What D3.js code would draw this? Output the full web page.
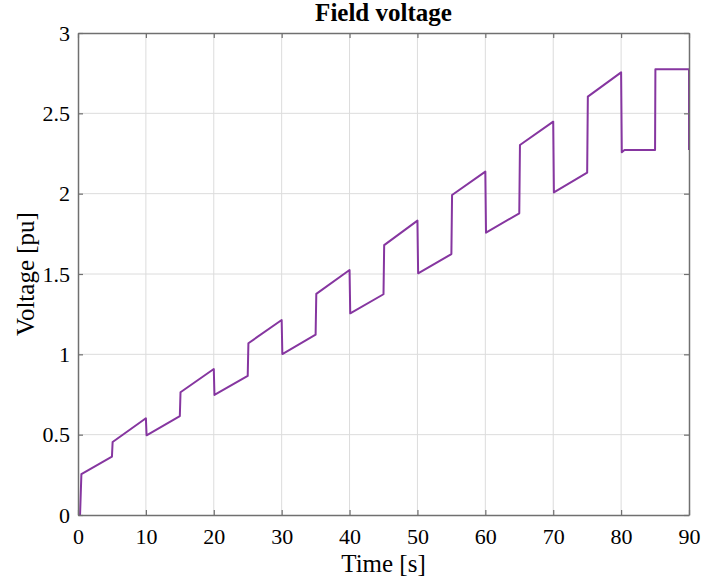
<!DOCTYPE html>
<html>
<head>
<meta charset="utf-8">
<script src="https://cdn.jsdelivr.net/npm/d3@7"></script>
<style>
  body { margin: 0; background: #fff; }
  svg text { font-family: "Liberation Serif", "Times New Roman", serif; fill: #000; }
</style>
</head>
<body>
<div id="chart"></div>
<script>
// field voltage trace
var timeS = [0, 0.3, 0.5, 5, 5.1, 10, 10.1, 15, 15.1, 20, 20.1, 25, 25.1, 30, 30.1,
  35, 35.1, 40, 40.1, 45, 45.1, 50, 50.1, 55, 55.1, 60, 60.1, 65, 65.1, 70, 70.1,
  75, 75.1, 80, 80.1, 80.5, 85, 85.05, 90, 90]
var voltPu = [0, 0, 0.255, 0.363, 0.454, 0.602, 0.496, 0.616, 0.764, 0.909, 0.747,
  0.866, 1.069, 1.214, 1.002, 1.122, 1.376, 1.525, 1.255, 1.374, 1.680, 1.832, 1.504,
  1.624, 1.992, 2.137, 1.757, 1.878, 2.303, 2.448, 2.008, 2.131, 2.604, 2.755, 2.258,
  2.272, 2.272, 2.774, 2.774, 2.272]

var xTicks = [0, 10, 20, 30, 40, 50, 60, 70, 80, 90]
var yTicks = [0, 0.5, 1, 1.5, 2, 2.5, 3]

var W = 702, H = 586
var margin = { top: 33, right: 13, bottom: 71, left: 78 },
  width = W - margin.left - margin.right,
  height = H - margin.top - margin.bottom

var svg = d3.select("#chart").append("svg")
  .attr("width", W)
  .attr("height", H)

var g = svg.append("g")
  .attr("transform", "translate(" + margin.left + "," + margin.top + ")")

var x = d3.scaleLinear().domain([0, 90]).range([0, width])
var y = d3.scaleLinear().domain([0, 3]).range([height, 0])

// grid
g.append("g").selectAll("line.gx")
  .data(xTicks.slice(1, -1))
  .enter().append("line")
  .attr("x1", function (d) { return x(d) })
  .attr("x2", function (d) { return x(d) })
  .attr("y1", 0).attr("y2", height)
  .style("stroke", "#dcdcdc").style("stroke-width", 1)

g.append("g").selectAll("line.gy")
  .data(yTicks.slice(1, -1))
  .enter().append("line")
  .attr("y1", function (d) { return y(d) })
  .attr("y2", function (d) { return y(d) })
  .attr("x1", 0).attr("x2", width)
  .style("stroke", "#dcdcdc").style("stroke-width", 1)

// the trace
var pts = timeS.map(function (t, i) { return [t, voltPu[i]] })
var line = d3.line()
  .x(function (d) { return x(d[0]) })
  .y(function (d) { return y(d[1]) })

g.append("path")
  .datum(pts)
  .attr("d", line)
  .style("fill", "none")
  .style("stroke", "#8636a0")
  .style("stroke-width", 2)
  .style("stroke-linejoin", "round")

// axes, matlab style: ticks inside, box all round
var axisColor = "#707070"

var xAxis = g.append("g")
  .attr("transform", "translate(0," + height + ")")
  .call(d3.axisBottom(x).tickValues(xTicks).tickSizeInner(-5).tickSizeOuter(0).tickPadding(13))
var xTop = g.append("g")
  .call(d3.axisTop(x).tickValues(xTicks).tickSizeInner(-5).tickSizeOuter(0).tickFormat(""))
var yAxis = g.append("g")
  .call(d3.axisLeft(y).tickValues(yTicks).tickSizeInner(-5).tickSizeOuter(0).tickPadding(8)
    .tickFormat(function (d) { return d3.format("")(d) }))
var yRight = g.append("g")
  .attr("transform", "translate(" + width + ",0)")
  .call(d3.axisRight(y).tickValues(yTicks).tickSizeInner(-5).tickSizeOuter(0).tickFormat(""))

;[xAxis, xTop, yAxis, yRight].forEach(function (a) {
  a.select(".domain").style("stroke", axisColor).style("stroke-width", 1.5)
  a.selectAll(".tick line").style("stroke", axisColor).style("stroke-width", 1.2)
  a.selectAll(".tick text")
    .style("font-family", "'Liberation Serif', 'Times New Roman', serif")
    .style("font-size", "22px")
    .style("fill", "#000")
})

// labels
svg.append("text")
  .attr("x", margin.left + width / 2)
  .attr("y", 20.5)
  .attr("text-anchor", "middle")
  .style("font-size", "25px")
  .style("font-weight", "bold")
  .text("Field voltage")

svg.append("text")
  .attr("x", margin.left + width / 2)
  .attr("y", 572)
  .attr("text-anchor", "middle")
  .style("font-size", "25px")
  .text("Time [s]")

svg.append("text")
  .attr("transform", "translate(33.5," + (margin.top + height / 2) + ") rotate(-90)")
  .attr("text-anchor", "middle")
  .style("font-size", "25px")
  .text("Voltage [pu]")
</script>
</body>
</html>
